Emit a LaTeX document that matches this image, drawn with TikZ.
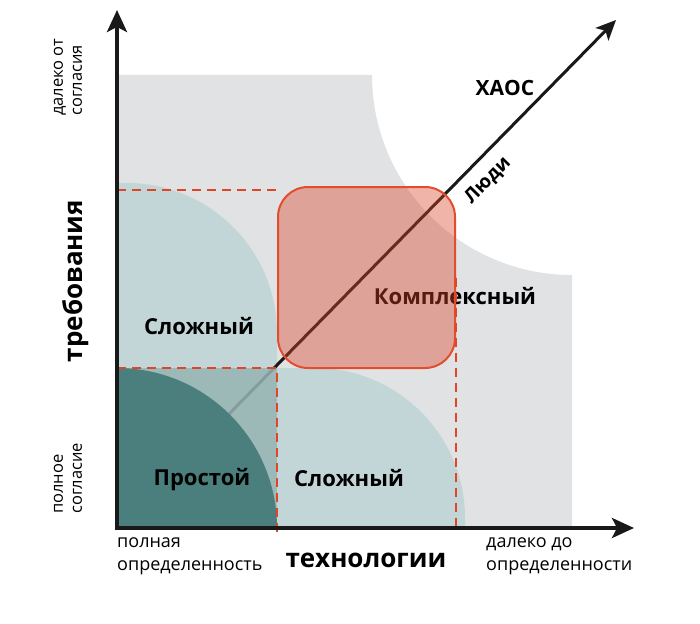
\documentclass[tikz,border=0pt]{standalone}
\usepackage{fontspec}
\setmainfont{Open Sans}
\usepackage{tikz}
\usetikzlibrary{arrows.meta}

\definecolor{chaosgray}{RGB}{225,226,227}
\definecolor{lightteal}{RGB}{195,214,215}
\definecolor{midteal}{RGB}{150,181,179}
\definecolor{darkteal}{RGB}{74,127,126}
\definecolor{boxred}{RGB}{220,68,40}
\definecolor{boxline}{RGB}{226,78,45}
\definecolor{dashred}{RGB}{224,69,42}

\begin{document}
\begin{tikzpicture}[x=1pt,y=-1pt]
	\tikzstyle{axis}=[line width=3.5pt,black!90,{Stealth[length=22pt,width=20pt,inset=5pt]}-{Stealth[length=22pt,width=20pt,inset=5pt]}]
	\tikzstyle{people}=[line width=3pt,black!90,-{Stealth[length=20pt,width=18pt,inset=5pt]}]
	\tikzstyle{guide}=[draw,dashred,line width=1.8pt,dash pattern=on 9pt off 6pt]
	\tikzstyle{cbox}=[draw=boxline,line width=2pt,fill=boxred,fill opacity=0.4,rounded corners=30pt,minimum width=177pt,minimum height=181pt,inner sep=0pt]
	\tikzstyle{zonetext}=[font=\fontsize{22}{26}\selectfont\bfseries,inner sep=0pt]
	\tikzstyle{axistitle}=[font=\fontsize{26}{30}\selectfont\bfseries,inner sep=0pt]
	\tikzstyle{endnote}=[font=\fontsize{18}{23}\selectfont,align=left,inner sep=0pt]
	\tikzstyle{sidenote}=[font=\fontsize{16.5}{19}\selectfont,align=left,inner sep=0pt]

	\useasboundingbox (0,0) rectangle (700,623);
	\coordinate (O) at (117,528);
	\coordinate (ytop) at (117,10);
	\coordinate (xend) at (634,528);
	\coordinate (ptip) at (616,20);
	\coordinate (reqhi) at (117,190);
	\coordinate (reqlo) at (117,368);
	\coordinate (techlo) at (277,535);

	% zones
	\fill[chaosgray] (117,528) -- (117,75) -- (372,75) arc[start angle=180,end angle=90,radius=200] -- (572,528) -- cycle;
	\fill[lightteal] (117,528) -- (117,183) -- (127,183) arc[start angle=-90,end angle=0,radius=150] -- (277,528) -- cycle;
	\fill[lightteal] (277,528) -- (277,368) -- (315,368) arc[start angle=-90,end angle=0,radius=150] -- (465,528) -- cycle;
	\draw[people] (O) -- (ptip);
	\fill[midteal,opacity=0.85] (117,368) rectangle (277,528);
	\fill[darkteal] (117,528) -- (117,368) arc[start angle=-90,end angle=0,radius=160] -- cycle;

	\node[zonetext,font=\fontsize{21}{26}\selectfont\bfseries] (chaos) at (505,88) {ХАОС};
	\node[zonetext,font=\fontsize{19}{24}\selectfont\bfseries,rotate=45.5] (peoplelbl) at (488,181) {Люди};
	\node[zonetext] (complex) at (455,296) {Комплексный};
	\node[zonetext] (hardreq) at (199,326) {Сложный};
	\node[zonetext] (simple) at (202,480) {Простой};
	\node[zonetext] (hardtech) at (349,478) {Сложный};

	\node[cbox] (cplx) at (366.5,277.5) {};
	\draw[guide] (reqhi) -- (reqhi -| cplx.west);
	\draw[guide] (reqlo) -| (techlo);
	\draw[guide] (cplx.east) -- (cplx.east |- O);

	\draw[axis] (ytop) |- (xend);

	\node[axistitle] (tech) at (366,560) {технологии};
	\node[axistitle,rotate=90] (req) at (76,281) {требования};
	\node[endnote,anchor=north west] (techlow) at (117,537) {полная\\определенность};
	\node[endnote,anchor=north west] (techhigh) at (486,537) {далеко до\\определенности};
	\node[sidenote,rotate=90,anchor=west] (reqhigh) at (68,116) {далеко от\\согласия};
	\node[sidenote,rotate=90,anchor=west] (reqlow) at (68,514) {полное\\согласие};
\end{tikzpicture}
\end{document}
